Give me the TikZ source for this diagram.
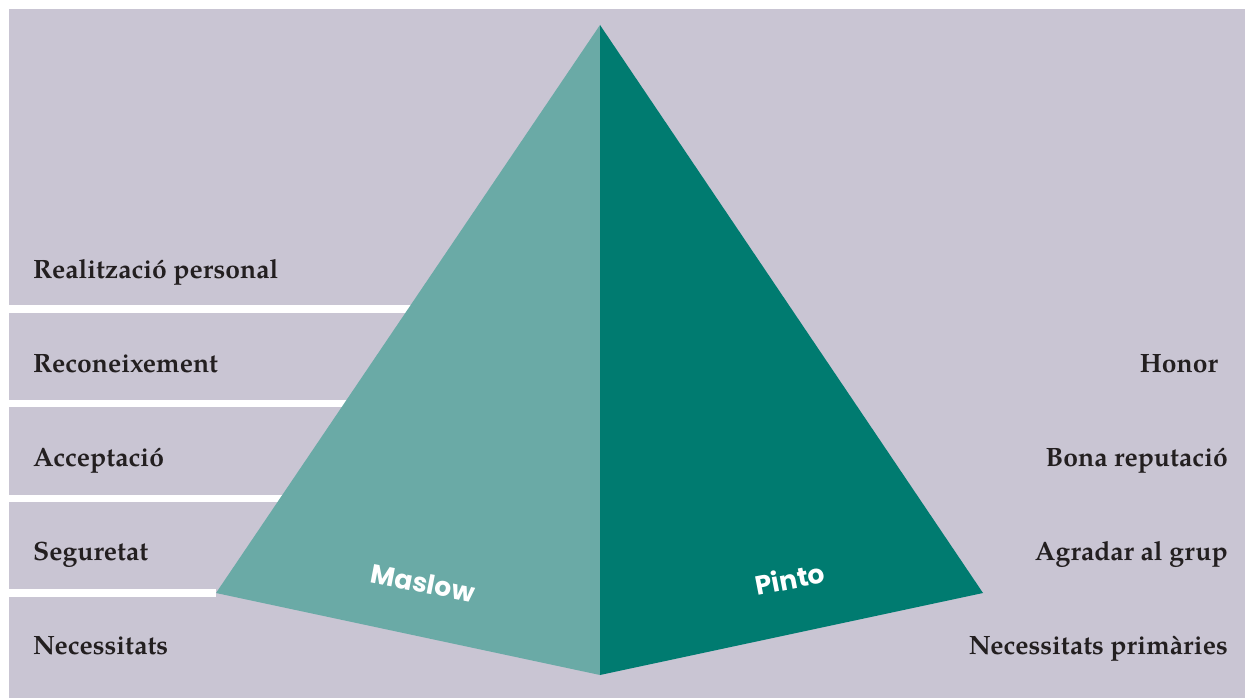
\documentclass[tikz,border=0pt]{standalone}
\usepackage{fontspec}
\setmainfont{TeX Gyre Pagella}
\newfontfamily\titlefont{Poppins}
\usepackage{xcolor}
\definecolor{backg}{RGB}{201,197,211}
\definecolor{maslowc}{RGB}{106,170,166}
\definecolor{pintoc}{RGB}{0,123,112}
\definecolor{txtc}{RGB}{35,31,32}
\usetikzlibrary{calc}
\newcommand{\sepl}[1]{\draw[sepline] (#1 -| bg) -- ($(#1)+(5,0)$)}

\begin{document}
\begin{tikzpicture}[
      x=1pt,y=-1pt,
      level/.style={font=\fontsize{26.5}{30}\selectfont\bfseries,text=txtc,inner sep=0pt},
      lvlleft/.style={level,anchor=base west},
      lvlright/.style={level,anchor=base east},
      sepline/.style={white,line width=7.5pt},
      title/.style={font=\titlefont\fontsize{26.5}{30}\selectfont\bfseries,text=white,inner sep=0pt}]

      % Frame
      \useasboundingbox (0,0) rectangle (1245,698);
      \fill[white] (0,0) rectangle (1245,698);
      \fill[backg] (9,9) rectangle (1245,698);
      \coordinate (bg) at (9,0);

      % Pyramid corners
      \coordinate (apex) at (600,25);
      \coordinate (lft) at (216,593);
      \coordinate (bot) at (600,675);
      \coordinate (rgt) at (983,593);

      % Marks on the left edge
      \coordinate (s1) at ($(apex)!0.5!(lft)$);
      \coordinate (s2) at ($(apex)!0.6667!(lft)$);
      \coordinate (s3) at ($(apex)!0.8333!(lft)$);

      % Draw separators
      \sepl{s1};
      \sepl{s2};
      \sepl{s3};
      \draw[sepline] (lft -| bg) -- (lft);

      % Faces
      \fill[maslowc] (apex) -- (lft) -- (bot) -- cycle;
      \fill[pintoc] (apex) -- (bot) -- (rgt) -- cycle;

      % Titles
      \node[title,rotate=-11] (maslow) at (423,583) {Maslow};
      \node[title,rotate=11] (pinto) at (790,579) {Pinto};

      % Define nodes
      \node[lvlleft] (real) at (33,278) {Realització personal};
      \node[lvlleft] (reco) at (33,372) {Reconeixement};
      \node[lvlleft] (acce) at (33,466) {Acceptació};
      \node[lvlleft] (segu) at (33,560) {Seguretat};
      \node[lvlleft] (nece) at (33,654) {Necessitats};
      \node[lvlright] (hono) at (1218,372) {Honor};
      \node[lvlright] (bona) at (1228,466) {Bona reputació};
      \node[lvlright] (agra) at (1228,560) {Agradar al grup};
      \node[lvlright] (prim) at (1228,654) {Necessitats primàries};

  \end{tikzpicture}
\end{document}
